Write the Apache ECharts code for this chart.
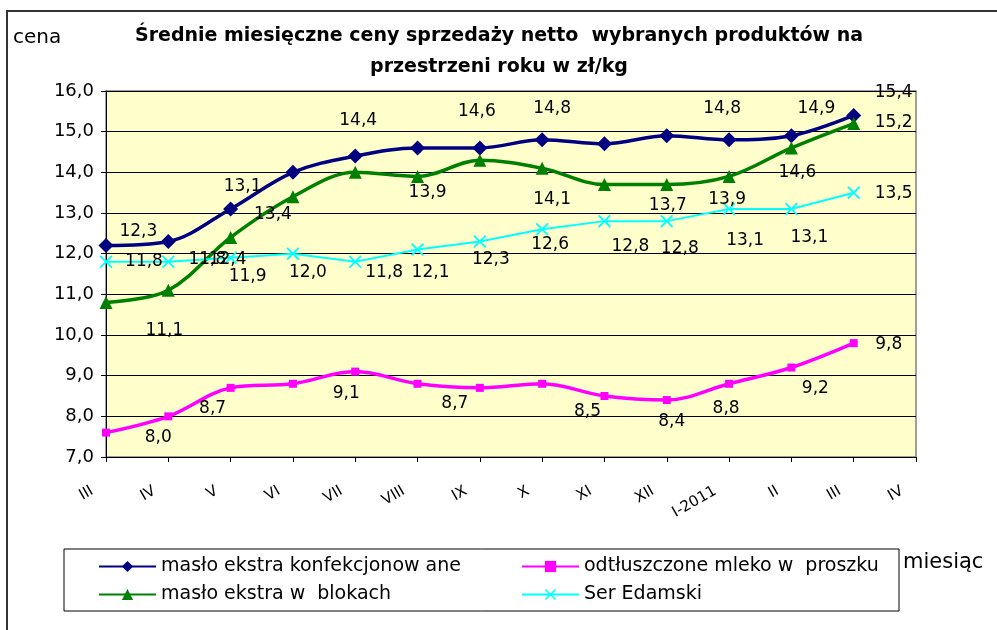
<!DOCTYPE html>
<html>
<head>
<meta charset="utf-8">
<script src="https://cdn.jsdelivr.net/npm/echarts@6/dist/echarts.min.js"></script>
<style>
html,body{margin:0;padding:0;background:#fff;}
#c{width:997px;height:630px;}
</style>
</head>
<body>
<div id="c"></div>
<script>
// ---- data ----
const categories = ['III','IV','V','VI','VII','VIII','IX','X','XI','XII','I-2011','II','III','IV'];
const seriesNames = ['masło ekstra konfekcjonow ane','odtłuszczone mleko w  proszku','masło ekstra w  blokach','Ser Edamski'];
const masloKonfekcjonowane = [12.2,12.3,13.1,14.0,14.4,14.6,14.6,14.8,14.7,14.9,14.8,14.9,15.4];
const mlekoWProszku = [7.6,8.0,8.7,8.8,9.1,8.8,8.7,8.8,8.5,8.4,8.8,9.2,9.8];
const masloWBlokach = [10.8,11.1,12.4,13.4,14.0,13.9,14.3,14.1,13.7,13.7,13.9,14.6,15.2];
const serEdamski = [11.8,11.8,11.9,12.0,11.8,12.1,12.3,12.6,12.8,12.8,13.1,13.1,13.5];
const yMin = 7, yMax = 16, yStep = 1;

// ---- label placement (offsets from the point, null = no label) ----
const labelPlacement = {
  navy:    [null,[-30,-10],[12,-22],null,[3,-35],null,[-3,-36],[10,-31],null,null,[-7,-31],[25,-27],[40,-23]],
  magenta: [null,[-10,21],[-18,21],null,[-9,22],null,[-25,16],null,[-17,16],[5,22],[-3,25],[24,21],[35,1]],
  green:   [null,[-4,40],[-3,22],[-20,18],null,[10,16],null,[10,31],null,[1,21],[-2,23],[6,25],[40,-1]],
  cyan:    [[38,0],[39,-2],[17,19],[15,19],[29,11],[13,23],[11,18],[8,15],[26,25],[13,27],[16,32],[18,29],[40,1]]
};

const FONT = 'DejaVu Sans';
function fmt(v){ return v.toFixed(1).replace('.', ','); }
function buildData(values, offsets){
  return values.map((v,i)=>{
    const off = offsets[i];
    if(!off) return {value:v, label:{show:false}};
    return {value:v, label:{show:true, position:'inside', offset:off}};
  });
}
const labelStyle = {color:'#000', fontFamily:FONT, fontSize:17, formatter:p=>fmt(p.value)};
const legendText = {color:'#000', fontFamily:FONT, fontSize:19};

const chart = echarts.init(document.getElementById('c'), null, {renderer:'canvas'});
const option = {
  animation:false,
  backgroundColor:'#fff',
  title:{
    text:'Średnie miesięczne ceny sprzedaży netto  wybranych produktów na\nprzestrzeni roku w zł/kg',
    left:494, top:16, textAlign:'center',
    textStyle:{fontFamily:FONT, fontSize:19, fontWeight:'bold', color:'#000', lineHeight:31}
  },
  grid:{left:106, right:81, top:91, bottom:173, show:true, backgroundColor:'#FFFFCC', borderColor:'#808080', borderWidth:1.5},
  xAxis:{
    type:'category', data:categories, boundaryGap:false,
    axisLine:{show:true, lineStyle:{color:'#000', width:1}},
    axisTick:{show:true, interval:0, length:5, lineStyle:{color:'#000'}},
    axisLabel:{interval:0, rotate:30, margin:25, padding:[0,16,0,0], color:'#000', fontFamily:FONT, fontSize:15},
    splitLine:{show:false}
  },
  yAxis:{
    type:'value', min:yMin, max:yMax, interval:yStep,
    axisLine:{show:true, lineStyle:{color:'#000', width:1}},
    axisTick:{show:true, length:5, lineStyle:{color:'#000'}},
    axisLabel:{color:'#000', fontFamily:FONT, fontSize:18, margin:12, formatter:v=>fmt(v)},
    splitLine:{show:true, lineStyle:{color:'#000', width:1}}
  },
  legend:[
    {data:[seriesNames[0], seriesNames[2]], orient:'vertical', left:93, top:552, itemWidth:57, itemHeight:14, itemGap:9,
     textStyle:legendText, z:5},
    {data:[seriesNames[1], seriesNames[3]], orient:'vertical', left:516, top:552, itemWidth:57, itemHeight:14, itemGap:9,
     textStyle:legendText, z:5}
  ],
  graphic:[
    {type:'polyline', shape:{points:[[7,640],[7,11],[1005,11]]}, style:{stroke:'#333', lineWidth:2, fill:null}, z:0},
    {type:'rect', shape:{x:64, y:549, width:835, height:62}, style:{fill:'#fff', stroke:'#000', lineWidth:1}, z:1},
    {type:'text', x:13, y:38, style:{text:'cena', fontFamily:FONT, fontSize:20, fill:'#000', verticalAlign:'middle'}},
    {type:'text', x:903, y:563, style:{text:'miesiąc', fontFamily:FONT, fontSize:21, fill:'#000', verticalAlign:'middle'}}
  ],
  series:[
    {name:seriesNames[0], type:'line', data:buildData(masloKonfekcjonowane, labelPlacement.navy), smooth:0.35,
     symbol:'diamond', symbolSize:15, lineStyle:{color:'#000080', width:3.5}, itemStyle:{color:'#000080'},
     label:labelStyle, z:3},
    {name:seriesNames[1], type:'line', data:buildData(mlekoWProszku, labelPlacement.magenta), smooth:0.35,
     symbol:'rect', symbolSize:8, lineStyle:{color:'#FF00FF', width:3.5}, itemStyle:{color:'#FF00FF'},
     label:labelStyle, z:3},
    {name:seriesNames[2], type:'line', data:buildData(masloWBlokach, labelPlacement.green), smooth:0.35,
     symbol:'triangle', symbolSize:13, lineStyle:{color:'#008000', width:3.5}, itemStyle:{color:'#008000'},
     label:labelStyle, z:3},
    {name:seriesNames[3], type:'line', data:buildData(serEdamski, labelPlacement.cyan), smooth:false,
     symbol:'path://M0,1 L1,0 L5,4 L9,0 L10,1 L6,5 L10,9 L9,10 L5,6 L1,10 L0,9 L4,5 Z', symbolSize:13,
     lineStyle:{color:'#00FFFF', width:2}, itemStyle:{color:'#00FFFF'},
     label:labelStyle, z:3}
  ]
};
chart.setOption(option);
</script>
</body>
</html>
